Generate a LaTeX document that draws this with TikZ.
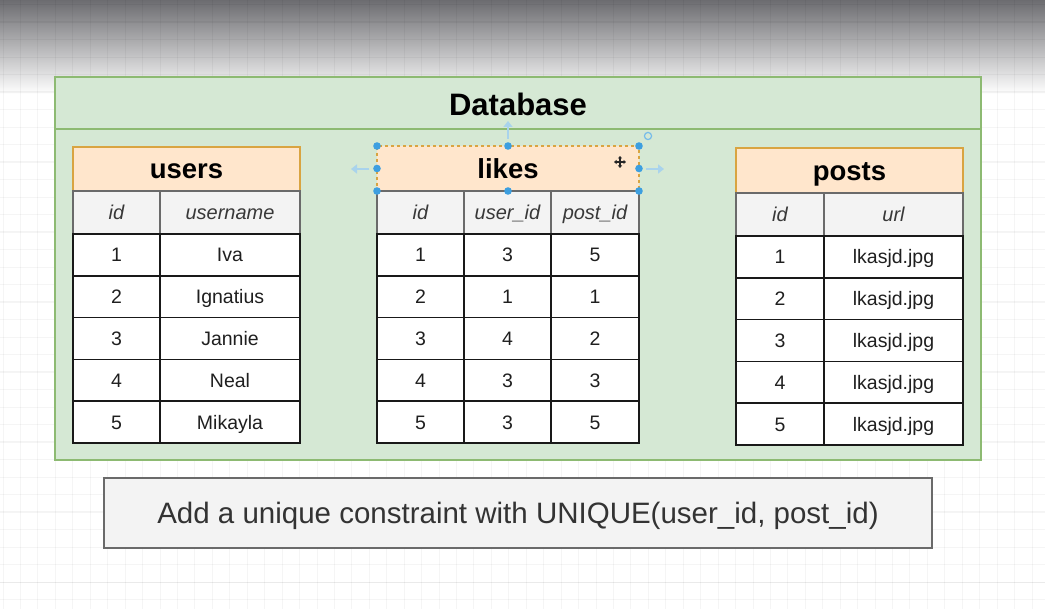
\documentclass[tikz,border=0pt]{standalone}
\usepackage{fontspec}
\setmainfont{Liberation Sans}
\usetikzlibrary{arrows.meta}

\definecolor{dbfill}{HTML}{D5E8D4}
\definecolor{dbline}{HTML}{8DBA72}
\definecolor{hdfill}{HTML}{FFE6CC}
\definecolor{hdline}{HTML}{D9A441}
\definecolor{colfill}{HTML}{F3F3F3}
\definecolor{colline}{HTML}{6A6A6A}
\definecolor{selblue}{HTML}{3D9FE0}
\definecolor{ghost}{HTML}{A9D3EC}
\definecolor{gtop}{HTML}{6C6C70}
\definecolor{gmid}{HTML}{BEBEC0}

\tikzset{
  box/.style={draw, anchor=north west, inner sep=0pt, outer sep=0pt, text depth=0pt},
  tbltitle/.style={box, fill=hdfill, draw=hdline, line width=1.2pt, text height=19.8pt,
    font=\fontsize{27.5}{30}\selectfont\bfseries},
  colhead/.style={box, fill=colfill, draw=colline, line width=1.2pt, text height=14.4pt,
    text=black!78, font=\fontsize{20}{24}\selectfont\itshape},
  datacell/.style={box, fill=white, draw=black!90, line width=1.6pt, text height=14pt,
    text=black!88, font=\fontsize{19.5}{24}\selectfont},
  handle/.style={fill=selblue},
  ghostarrow/.style={ghost, line width=2pt, -{Triangle[length=6,width=9]}},
}

\begin{document}
\begin{tikzpicture}[x=1pt, y=-1pt]
\useasboundingbox (0,0) rectangle (1045,609);
\fill[white] (0,0) rectangle (1045,609);

% canvas shading at the top edge
\shade[top color=gtop, middle color=gmid, bottom color=white] (0,0) rectangle (1045,94);

% background grid
\foreach \i in {0,...,60}
  \draw[black, opacity=0.04, line width=0.8pt] (3+17.44*\i,0) -- (3+17.44*\i,609);
\foreach \j in {0,...,34}
  \draw[black, opacity=0.04, line width=0.8pt] (0,4.5+17.5*\j) -- (1045,4.5+17.5*\j);
\foreach \j in {0,...,8}
  \draw[black, opacity=0.045, line width=1pt] (0,22+70*\j) -- (1045,22+70*\j);

% database container
\node[box, fill=dbfill, draw=dbline, line width=1.5pt,
      minimum width=926, minimum height=383] (db) at (55,77) {};
\coordinate (splitL) at (55,129);
\coordinate (splitR) at (981,129);
\draw[dbline, line width=1.5pt] (splitL) -- (splitR);
\node[font=\fontsize{31}{34}\selectfont\bfseries, text height=22.3pt, text depth=0pt,
      inner sep=0pt] (dbtitle) at (518,104) {Database};

% users table
\node[tbltitle, minimum width=227, minimum height=44] (users) at (73,147) {users};
\node[colhead, minimum width=87, minimum height=43] (users-h1) at (73,191) {id};
\node[colhead, minimum width=140, minimum height=43] (users-h2) at (160,191) {username};
\foreach \n/\name [count=\r from 0] in {1/Iva,2/Ignatius,3/Jannie,4/Neal,5/Mikayla} {
  \node[datacell, minimum width=87, minimum height=41.8] (users-\n a) at (73,234+41.8*\r) {\n};
  \node[datacell, minimum width=140, minimum height=41.8] (users-\n b) at (160,234+41.8*\r) {\name};
}

% likes table
\node[tbltitle, dashed, minimum width=262, minimum height=45] (likes) at (377,146) {likes};
\node[colhead, minimum width=87, minimum height=43] (likes-h1) at (377,191) {id};
\node[colhead, minimum width=87, minimum height=43] (likes-h2) at (464,191) {user\_id};
\node[colhead, minimum width=88, minimum height=43] (likes-h3) at (551,191) {post\_id};
\foreach \n/\u/\p [count=\r from 0] in {1/3/5,2/1/1,3/4/2,4/3/3,5/3/5} {
  \node[datacell, minimum width=87, minimum height=41.8] (likes-\n a) at (377,234+41.8*\r) {\n};
  \node[datacell, minimum width=87, minimum height=41.8] (likes-\n b) at (464,234+41.8*\r) {\u};
  \node[datacell, minimum width=88, minimum height=41.8] (likes-\n c) at (551,234+41.8*\r) {\p};
}

% posts table
\node[tbltitle, minimum width=227, minimum height=45] (posts) at (736,148) {posts};
\node[colhead, minimum width=88, minimum height=43] (posts-h1) at (736,193) {id};
\node[colhead, minimum width=139, minimum height=43] (posts-h2) at (824,193) {url};
\foreach \n [count=\r from 0] in {1,...,5} {
  \node[datacell, minimum width=88, minimum height=41.8] (posts-\n a) at (736,236+41.8*\r) {\n};
  \node[datacell, minimum width=139, minimum height=41.8] (posts-\n b) at (824,236+41.8*\r) {lkasjd.jpg};
}

% selection handles around the likes title
\foreach \a in {north west, north, north east, west, east, south west, south, south east}
  \fill[handle] (likes.\a) circle (3.8);
\coordinate (ghostL1) at (369,169);
\coordinate (ghostL2) at (351,169);
\coordinate (ghostR1) at (646,169);
\coordinate (ghostR2) at (664,169);
\coordinate (ghostU1) at (508,139);
\coordinate (ghostU2) at (508,121);
\draw[ghostarrow] (ghostL1) -- (ghostL2);
\draw[ghostarrow] (ghostR1) -- (ghostR2);
\draw[ghostarrow] (ghostU1) -- (ghostU2);
\coordinate (rotate) at (648,136);
\draw[selblue!70, line width=1.2pt] (rotate) circle (3.6);

% move cursor
\coordinate (cur) at (620,162);
\draw[black!85, line width=1.4pt, {Triangle[length=2.5,width=4]}-{Triangle[length=2.5,width=4]}]
  ([xshift=-6]cur) -- ([xshift=6]cur);
\draw[black!85, line width=1.4pt, {Triangle[length=2.5,width=4]}-{Triangle[length=2.5,width=4]}]
  ([yshift=-6]cur) -- ([yshift=6]cur);

% note below
\node[box, fill=colfill, draw=colline, line width=1.6pt, minimum width=828, minimum height=70,
      text height=21.2pt, text=black!80, font=\fontsize{29.5}{32}\selectfont] (note) at (104,478)
  {Add a unique constraint with UNIQUE(user\_id, post\_id)};
\end{tikzpicture}
\end{document}
